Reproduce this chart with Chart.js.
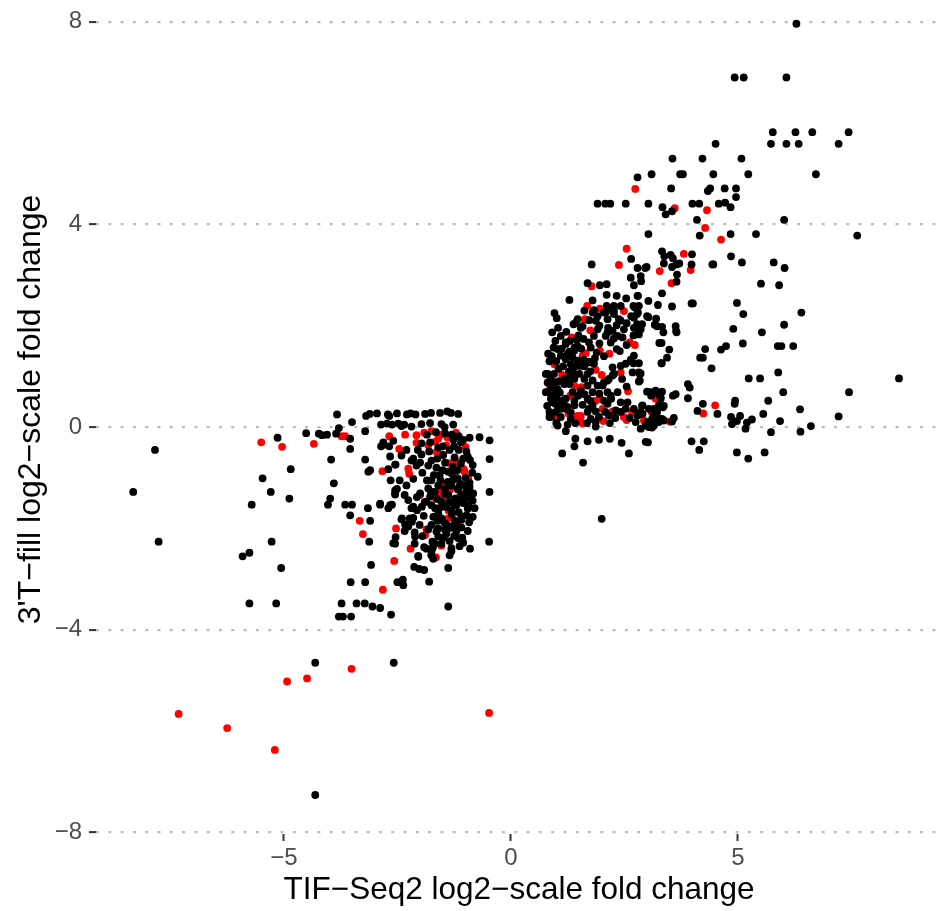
<!DOCTYPE html>
<html>
<head>
<meta charset="utf-8">
<script src="https://cdn.jsdelivr.net/npm/chart.js@4/dist/chart.umd.min.js"></script>
<style>
html,body{margin:0;padding:0;background:#fff;overflow:hidden;width:936px;height:911px;}
#wrap{position:absolute;left:0;top:-19px;width:946px;height:930px;}
</style>
</head>
<body>
<div id="wrap"><canvas id="c" width="946" height="930"></canvas></div>
<script>
// Axis ticks
const xTicks = [-5, 0, 5];
const yTicks = [-8, -4, 0, 4, 8];
const xTitle = "TIF\u2212Seq2 log2\u2212scale fold change";
const yTitle = "3'T\u2212fill log2\u2212scale fold change";

// Black points: left-side outliers
const blackLeftSparse = [[-7.84,-0.45],[-8.32,-1.28],[-7.76,-2.26],[-5.14,-0.21],[-4.85,-0.83],[-5.47,-1.01],[-5.29,-1.28],[-4.88,-1.41],[-5.71,-1.53],[-5.27,-2.26],[-5.76,-2.48],[-5.91,-2.55],[-5.06,-2.78],[-5.76,-3.48],[-5.17,-3.48],[-3.73,-3.48],[-3.40,-3.48],[-3.22,-3.48],[-3.05,-3.54],[-2.88,-3.57],[-2.64,-3.70],[-3.79,-3.74],[-3.70,-3.74],[-3.52,-3.74],[-1.38,-3.54],[-3.53,-3.06],[-3.21,-3.06],[-2.50,-3.06],[-2.37,-3.12],[-2.38,-3.01],[-1.80,-3.05],[-4.31,-4.65],[-2.58,-4.65],[-4.31,-7.26],[-0.48,-2.26],[-0.47,-0.63],[-0.47,-1.28],[-0.47,-0.26],[-0.69,-0.20],[-0.91,-0.21]];

// Black points: left cluster core
const blackLeftCore = [[-3.83,0.25],[-3.19,0.22],[-3.11,0.26],[-2.95,0.27],[-2.71,0.25],[-2.68,0.22],[-2.51,0.27],[-2.29,0.25],[-2.21,0.27],[-2.10,0.25],[-1.89,0.26],[-1.76,0.28],[-1.56,0.28],[-1.40,0.31],[-1.32,0.28],[-1.16,0.26],
[-3.50,0.10],[-2.86,0.05],[-2.73,0.07],[-2.62,0.05],[-2.48,0.07],[-2.35,0.05],[-1.97,0.06],[-1.78,0.08],[-1.53,0.06],[-1.27,0.05],[-3.79,-0.02],[-2.41,0.02],[-2.19,0.01],[-1.46,0.0],
[-3.21,-0.08],[-4.51,-0.12],[-4.23,-0.13],[-4.16,-0.16],[-4.05,-0.15],[-3.85,-0.13],[-3.54,-0.23],[-3.54,-0.43],
[-3.96,-0.64],[-3.90,-1.11],[-3.98,-1.41],[-4.03,-1.53],[-3.65,-1.53],[-3.50,-1.53],[-3.54,-1.74],[-3.15,-1.60],[-3.10,-1.85],[-3.12,-2.26],[-3.21,-0.64],[-3.10,-0.85],[-3.14,-0.88],[-2.86,-0.38],[-2.81,-0.35],[-2.68,-0.38],[-2.70,-0.83],[-2.54,-0.74],[-2.88,-1.53],[-2.70,-1.60],[-2.66,-1.54],[-2.55,-1.31],[-2.51,-1.22],[-2.59,-2.29],[-2.54,-2.17],[-3.08,-2.72],
[-2.62,-1.53],[-2.55,-1.33],[-1.38,-2.78],[-1.31,-2.39],[-1.91,-2.37],[-2.04,-2.54],[-2.13,-2.76],[-2.02,-2.80],[-1.91,-2.82],[-1.75,-2.52],[-1.72,-2.38],[-1.73,-2.26],[-2.11,-2.16],[-2.40,-1.80],[-2.33,-1.92],[-2.26,-1.96],[-2.18,-1.87],[-2.15,-1.79],[-2.07,-1.64],[-1.96,-1.57],[-1.86,-1.47],[-1.78,-1.37],[-1.76,-1.28],[-2.26,-1.44],[-2.15,-1.57],[-2.07,-1.38],[-2.00,-1.31],[-1.67,-1.60],[-1.60,-1.70],[-1.53,-1.80],[-1.45,-1.90],[-1.75,-1.93],[-1.64,-2.06],[-1.60,-2.16],[-1.23,-1.92],[-1.20,-1.90],[-1.09,-1.83],[-0.98,-1.74],[-1.16,-2.19],[-1.07,-2.18],[-0.94,-1.54],[-1.01,-1.41],[-1.09,-1.34],[-1.45,-2.03],[-1.34,-1.99],[-1.53,-1.47],[-1.42,-1.57],[-1.31,-1.64],[-1.20,-1.54],[-1.23,-1.41],[-1.38,-1.34],[-1.45,-1.21],[-1.31,-1.15],[-1.16,-1.21],[-1.02,-1.15],[-0.91,-1.18],[-0.83,-1.31],[-0.94,-1.38],
[-2.81,-0.30],[-2.59,-0.27],[-1.97,-0.32],[-1.27,-0.25],[-1.10,-0.30],
[-2.66,-0.58],[-2.41,-0.56],[-2.15,-0.62],[-1.97,-0.54],[-1.75,-0.66],[-1.49,-0.55],[-1.24,-0.60],[-0.95,-0.58],
[-2.55,-0.74],[-2.19,-0.66],[-2.08,-0.76],[-1.82,-0.76],[-1.64,-0.80],[-1.28,-0.78],[-0.84,-0.75],
[-2.15,-1.02],[-1.75,-1.05],[-1.57,-0.95],[-1.39,-1.08],[-1.17,-1.01],[-0.91,-1.10],[-0.73,-0.98],
[-2.55,-1.25],[-2.34,-1.34],[-1.82,-1.21],[-1.68,-1.28],[-1.46,-1.31],[-1.17,-1.23],[-0.91,-1.28],[-0.84,-1.45],
[-2.88,-1.51],[-2.19,-1.60],[-1.90,-1.48],[-1.75,-1.54],[-1.46,-1.57],[-1.24,-1.54],[-0.95,-1.61],
[-2.41,-1.82],[-2.23,-1.80],[-2.01,-1.93],[-1.71,-1.77],[-1.53,-1.84],[-1.24,-1.84],[-1.09,-1.77],[-0.84,-1.77],
[-2.34,-2.05],[-2.12,-2.08],[-1.82,-2.02],[-1.60,-2.00],[-1.42,-2.10],[-1.20,-2.05],[-1.09,-1.98],
[-2.55,-2.30],[-2.12,-2.30],[-1.86,-2.40],[-1.75,-2.45],[-1.53,-2.30],[-1.31,-2.45],[-1.13,-2.35],
[-2.04,-2.56],[-1.75,-2.53],[-1.71,-2.60],[-1.35,-2.53],
[-1.85,-0.15],[-1.65,-0.10],[-1.45,-0.12],[-1.30,-0.15],[-1.15,-0.18],[-1.05,-0.25],[-1.60,-0.40],[-1.35,-0.45],[-1.15,-0.45],[-1.80,-0.48],[-1.45,-0.70],[-1.10,-0.72],[-1.30,-0.92],[-1.60,-1.15],[-0.85,-0.90],[-1.00,-1.00],[-0.80,-1.60],[-1.35,-2.25],[-0.95,-2.05],[-0.90,-2.40],
[-1.62,-0.62],[-1.50,-0.85],[-1.38,-0.88],[-1.18,-0.85],[-1.05,-0.62],[-0.98,-0.48],[-1.70,-0.95],[-1.55,-1.05],[-1.28,-1.05],[-1.12,-1.12],[-0.98,-1.25],[-1.62,-1.42],[-1.35,-1.48],[-1.10,-1.48],[-0.88,-1.40],[-1.58,-1.60],[-1.30,-1.72],[-1.15,-1.68],[-0.92,-1.88],[-1.62,-1.85],[-1.38,-1.95],[-1.25,-2.15],[-1.05,-2.28],[-1.48,-2.18],[-1.68,-2.30],[-1.95,-2.15],[-1.92,-1.75],[-1.85,-1.05],[-1.95,-0.90],[-2.00,-0.70],[-2.30,-0.45],[-2.05,-0.45],[-1.25,-0.38],[-1.05,-1.50],[-0.90,-0.65],[-1.50,-0.38],[-1.78,-0.30],[-2.45,-1.05],[-2.30,-1.15],[-2.65,-1.05]];

// Black points: right side, upper / outer part
const blackRightOuter = [[5.77,5.82],[6.27,5.82],[6.64,5.82],[7.44,5.82],
[4.51,5.59],[5.73,5.59],[6.07,5.59],[6.34,5.59],[7.22,5.59],
[3.56,5.30],[4.22,5.30],[5.08,5.30],
[3.10,4.99],[3.73,4.99],[3.79,4.99],[4.46,4.99],[5.23,4.99],[6.72,4.99],
[3.53,4.71],[4.34,4.66],[4.39,4.71],[4.71,4.71],[4.96,4.71],[4.96,4.54],
[3.03,4.41],[3.34,4.34],[3.41,4.20],[3.55,4.26],[4.00,4.41],[4.15,4.41],[4.58,4.41],[4.72,4.43],[4.84,4.34],
[4.10,4.09],[6.02,4.09],
[3.03,3.81],[4.16,3.78],[4.84,3.81],[5.40,3.81],[7.63,3.78],
[3.33,3.47],[3.38,3.37],[3.52,3.40],[3.57,3.33],[3.37,3.23],[3.55,3.16],[3.65,3.21],[3.71,3.23],[3.98,3.21],[2.99,3.16],[3.66,3.01],[3.65,2.87],[4.44,3.21],[4.46,3.21],
[4.85,3.37],[5.09,3.25],[5.79,3.25],[6.03,3.14],[5.51,2.83],[5.91,2.80],
[3.33,2.64],[3.03,2.49],[3.24,2.41],[3.55,2.38],[3.98,2.44],[4.01,2.44],[4.98,2.45],[5.12,2.23],[6.40,2.26],
[3.03,2.17],[3.20,2.14],[3.22,1.99],[3.33,1.98],[3.63,1.99],[3.64,1.90],[3.65,1.87],[4.90,1.94],[5.53,1.87],[6.02,2.02],
[3.27,1.66],[3.32,1.66],[3.49,1.53],[3.44,1.37],[3.32,1.26],[4.28,1.54],[4.17,1.37],[4.23,1.37],[4.63,1.53],[4.74,1.60],[5.11,1.65],[5.88,1.60],[5.96,1.60],[6.22,1.60],
[4.42,1.16],[5.24,0.96],[5.49,0.96],[5.89,1.08],[8.55,0.96],[3.90,0.85],[3.94,0.78],[6.00,0.69],[7.45,0.69],
[3.00,0.70],[3.09,0.62],[3.26,0.65],[3.33,0.70],[3.57,0.62],[3.63,0.65],[3.90,0.57],[5.67,0.52],[3.26,0.43],[3.35,0.39],[4.23,0.46],[4.11,0.32],[4.55,0.26],[4.94,0.52],[4.93,0.46],
[4.85,0.20],[5.05,0.22],[4.98,0.12],[4.87,0.06],[5.17,-0.03],[5.20,0.09],[5.31,0.15],[5.56,0.26],[5.73,-0.10],[5.93,0.12],[6.37,0.35],[6.38,-0.09],[6.61,0.02],[7.22,0.21],
[3.15,0.23],[3.22,0.20],[3.33,0.16],[3.59,0.18],[3.55,0.11],[3.04,0.0],[3.02,-0.30],[3.98,-0.28],[4.25,-0.28],[4.15,-0.45],[4.98,-0.50],[5.23,-0.62],[5.59,-0.50],
[4.93,6.90],[5.13,6.90],[6.07,6.90],[6.29,7.96],
[2.80,2.59],[2.82,2.39],[2.80,2.26],[2.84,2.00],[2.80,1.87],[2.82,1.26],[2.84,1.05],[2.82,0.90],[2.90,0.43],[2.97,-0.29],[3.08,0.69],[3.19,0.72],[3.30,0.59],[3.22,0.30],[3.11,0.16],[3.00,0.10],[2.90,0.26],[3.04,0.36],[3.26,0.10],[3.37,0.13],[3.04,0.01],[3.11,-0.01],[2.86,-0.03],[3.99,3.41]];

// Black points: right cluster core
const blackRightCore = [[2.79,4.93],[1.91,4.41],[2.08,4.41],[2.19,4.41],[2.53,4.41],[1.78,3.21],[2.65,3.32],[2.79,3.14],[2.96,3.14],[2.64,2.95],[2.86,2.98],[2.71,2.80],[2.87,2.88],[1.69,2.84],[1.96,2.80],[2.11,2.82],[1.29,2.51],[1.80,2.50],[2.11,2.61],[2.33,2.59],[2.54,2.54],[2.79,2.59],[2.11,2.39],[2.27,2.39],[2.42,2.39],[2.70,2.39],[1.83,2.31],[2.11,2.29],[2.27,2.29],[2.73,2.36],
[0.96,2.25],[1.01,2.15],[1.38,2.03],[1.43,2.06],[1.58,1.99],[1.72,2.11],[1.82,2.27],[1.91,2.19],[2.09,2.27],[2.26,2.32],[2.27,2.23],[2.42,2.10],[2.65,2.19],[2.78,2.23],[3.00,2.19],[3.17,2.02],[3.36,1.87],
[0.91,1.87],[1.04,1.96],[1.49,1.81],[1.60,1.74],[1.72,1.67],[1.83,1.80],[2.13,1.87],[2.27,1.75],[2.14,1.96],[2.33,2.01],[2.49,1.93],[2.78,2.03],[2.86,1.93],[2.70,1.81],[2.46,1.77],[2.20,1.67],[2.33,1.54],
[0.94,1.57],[1.03,1.54],[1.21,1.67],[1.29,1.49],[1.40,1.51],[1.47,1.60],[1.76,1.57],[1.89,1.47],[1.85,1.36],[1.72,1.29],[1.60,1.33],[1.47,1.21],[1.32,1.24],[1.21,1.34],[1.10,1.41],
[2.64,1.33],[2.70,1.26],[2.86,1.06],[2.84,0.92],[3.32,1.26],
[0.81,1.05],[0.88,0.96],[0.96,0.88],[0.80,0.69],[0.88,0.56],[0.98,0.46],[1.10,0.36],[0.85,0.20],[0.99,0.30],
[1.18,0.95],[1.29,0.85],[1.40,0.95],[1.51,1.05],[1.62,0.95],[1.69,0.82],[1.54,0.72],[1.36,0.69],[1.21,0.56],[1.40,0.52],[1.58,0.44],[1.72,0.36],[1.87,0.31],[1.69,0.56],[1.80,0.69],
[2.02,0.82],[2.13,0.92],[2.24,1.02],[2.35,0.69],[2.13,0.69],[2.21,0.56],[2.42,0.49],[2.53,0.36],[2.71,0.36],[2.31,0.33],[2.13,0.46],
[2.68,1.08],[2.82,1.08],[2.71,1.41],[2.65,1.31],[3.30,0.56],[3.37,0.42],[3.15,0.36],[2.89,0.42],[2.97,0.03],[3.15,0.03],
[1.21,-0.08],[1.42,-0.23],[1.40,-0.38],[1.69,-0.28],[1.94,-0.25],[2.18,-0.23],[2.44,-0.31],[2.60,-0.52],[1.13,-0.52],[1.59,-0.70],[1.87,0.01],[2.00,-1.81],
[1.47,2.13],[1.54,1.96],[1.80,2.26],[1.87,2.10],[2.05,2.26],[2.13,2.13],[2.38,2.13],[2.24,1.90],[2.35,1.80],[2.09,1.80],[1.91,1.93],[2.71,2.16],[2.89,2.03],[2.71,1.96],[2.82,1.83],
[1.21,1.64],[1.40,1.57],[1.25,1.44],[1.36,1.38],[1.47,1.31],[1.54,1.21],
[0.77,1.05],[0.81,0.88],[0.88,0.79],[0.77,0.69],[0.96,0.66],[1.03,0.75],[1.18,0.85],[1.29,0.98],[1.40,1.05],[1.69,1.05],[1.73,1.28],[1.83,1.25],[1.80,0.92],[1.91,0.82],[2.05,0.88],[2.16,0.95],[2.27,1.05],[2.42,1.21],[2.53,1.25],[2.24,1.18],
[0.92,0.49],[1.03,0.43],[1.14,0.52],[1.21,0.36],[1.32,0.29],[1.40,0.43],[0.85,0.30],[0.88,0.20],[1.10,0.20],[1.32,0.16],[1.69,0.30],[1.80,0.43],[2.05,0.52],[2.20,0.62],[2.57,0.49],[2.79,0.23],[2.86,0.30],[2.42,0.30],[2.16,0.23],[1.94,0.20],[1.76,0.16],[1.87,0.10],
[1.03,0.03],[0.85,1.30],[0.82,1.45],
[0.90,0.62],[1.00,0.58],[1.08,0.68],[1.16,0.45],[1.25,0.40],[1.05,0.90],[0.95,1.05],[1.05,1.15],[1.15,1.20],[1.28,1.10],[1.38,1.18],[0.90,1.40],[1.00,1.30],[1.12,1.55],[1.30,1.70],[1.45,1.72],[0.98,1.70],[1.10,1.80],[1.22,1.88],[1.55,1.55],[1.62,1.20],[1.75,1.10],[1.48,0.62],[1.62,0.65],[1.75,0.52],[1.95,0.66],[2.08,0.30],[2.30,0.18],[2.62,0.18],[2.75,0.10],[1.25,0.05],[1.42,0.08],[1.68,0.08],[2.18,0.08],[1.00,0.08],[0.80,0.42],[1.95,1.65],[2.05,1.40],[2.40,1.50],[2.55,1.62],[2.45,0.95],[2.55,0.80],[1.95,2.00],[1.62,2.30],[2.55,2.05]];

// Red (highlighted) points
const redLeft = [[-5.50,-0.30],[-5.04,-0.39],[-4.34,-0.33],[-3.73,-0.18],[-3.65,-0.18],[-2.68,-0.18],[-2.46,-0.43],[-2.33,-0.15],[-2.08,-0.16],[-2.08,-0.31],[-1.91,-0.11],[-1.75,-0.08],[-1.82,-0.36],[-1.67,-0.29],[-1.60,-0.23],[-1.53,-0.15],[-1.40,-0.20],[-1.21,-0.11],[-1.42,-0.36],[-1.64,-0.49],[-1.53,-0.54],[-1.00,-0.39],[-1.36,-0.71],[-1.20,-0.69],[-1.04,-0.83],[-1.02,-0.88],[-1.25,-0.92],[-1.24,-0.95],[-0.94,-1.01],[-1.33,-1.11],[-1.49,-1.17],[-1.34,-1.23],[-1.60,-1.28],[-1.54,-1.31],[-2.00,-1.34],[-1.65,-1.41],[-1.49,-1.45],[-1.16,-1.39],[-1.04,-1.36],[-1.24,-1.49],[-1.37,-1.65],[-1.40,-1.81],[-0.89,-1.80],[-2.83,-0.87],[-2.26,-0.82],[-2.24,-0.92],[-3.33,-1.85],[-3.26,-2.11],[-2.53,-2.00],[-1.86,-2.02],[-1.89,-2.13],[-1.14,-2.20],[-1.53,-2.34],[-2.21,-2.40],[-1.65,-2.57],[-2.57,-2.64],[-2.82,-3.21],[-3.51,-4.77],[-4.93,-5.02],[-4.49,-4.96],[-7.32,-5.66],[-6.25,-5.94],[-5.20,-6.37],[-0.48,-5.64]];
const redRight = [[2.38,3.20],[3.28,3.08],[3.96,3.10],[3.81,3.42],[3.54,2.84],[1.78,2.78],[1.68,2.39],[1.96,2.34],[2.49,2.29],[1.63,2.13],[1.75,1.91],[1.34,1.77],[2.62,1.67],[2.73,1.62],[1.96,1.51],[2.17,1.45],[1.65,1.46],[1.58,1.41],[0.96,1.24],[1.13,1.03],[1.14,0.98],[1.87,1.13],[2.00,1.03],[2.42,1.08],[0.85,0.84],[1.42,0.80],[1.56,0.79],[1.31,0.62],[1.87,0.52],[1.96,0.56],[2.58,0.71],[3.19,0.56],[2.02,0.36],[2.24,0.31],[2.67,0.30],[3.10,0.30],[1.27,0.27],[1.47,0.22],[1.54,0.22],[1.53,0.16],[1.02,0.16],[1.58,0.07],[2.04,0.12],[2.49,0.20],[2.55,0.14],[2.93,0.13],[3.50,0.11],[4.24,0.27],[4.50,0.43],[2.74,4.70],[3.61,4.32],[4.32,4.28],[4.28,3.93],[4.63,3.70],[2.55,3.52]];

const toXY = arr => arr.map(p => ({x: p[0], y: p[1]}));
const blackData = toXY([].concat(blackLeftSparse, blackLeftCore, blackRightOuter, blackRightCore));
const redData = toXY([].concat(redLeft, redRight));

const FONT = "'Liberation Sans', Arial, Helvetica, sans-serif";
const minusFmt = v => String(v).replace('-', '\u2212');

new Chart(document.getElementById('c'), {
  type: 'scatter',
  data: {
    datasets: [
      {data: blackData, backgroundColor: '#000000', borderWidth: 0, pointRadius: 3.9, pointHoverRadius: 3.9},
      {data: redData, backgroundColor: '#ff0000', borderWidth: 0, pointRadius: 3.9, pointHoverRadius: 3.9}
    ]
  },
  options: {
    responsive: false,
    animation: false,
    events: [],
    layout: {padding: 0},
    plugins: {legend: {display: false}, tooltip: {enabled: false}},
    scales: {
      x: {
        type: 'linear',
        min: -9.14, max: 9.50,
        afterBuildTicks: s => { s.ticks = xTicks.map(v => ({value: v})); },
        afterFit: s => { s.height = 77; s.paddingLeft = 0; s.paddingRight = 0; },
        grid: {display: true, drawOnChartArea: false, drawTicks: true, tickLength: 7, tickColor: '#333333', tickWidth: 2},
        border: {display: false},
        ticks: {color: '#4d4d4d', font: {family: FONT, size: 24}, padding: 3, maxRotation: 0, autoSkip: false, callback: minusFmt},
        title: {display: true, text: xTitle, color: '#000000', font: {family: FONT, size: 31.5}, padding: {top: 0, bottom: 2}}
      },
      y: {
        type: 'linear',
        min: -8.03, max: 8.727,
        afterBuildTicks: s => { s.ticks = yTicks.map(v => ({value: v})); },
        afterFit: s => { s.width = 96; s.paddingTop = 0; s.paddingBottom = 0; },
        grid: {display: true, drawOnChartArea: true, color: '#bbbbbb', lineWidth: 2.2, drawTicks: true, tickLength: 7, tickColor: '#333333', tickWidth: 2},
        border: {display: false, dash: [3, 9.3]},
        ticks: {color: '#4d4d4d', font: {family: FONT, size: 24}, padding: 7, autoSkip: false, callback: minusFmt},
        title: {display: true, text: yTitle, color: '#000000', font: {family: FONT, size: 32}, padding: {top: 12, bottom: 0}}
      }
    }
  }
});
</script>
</body>
</html>
